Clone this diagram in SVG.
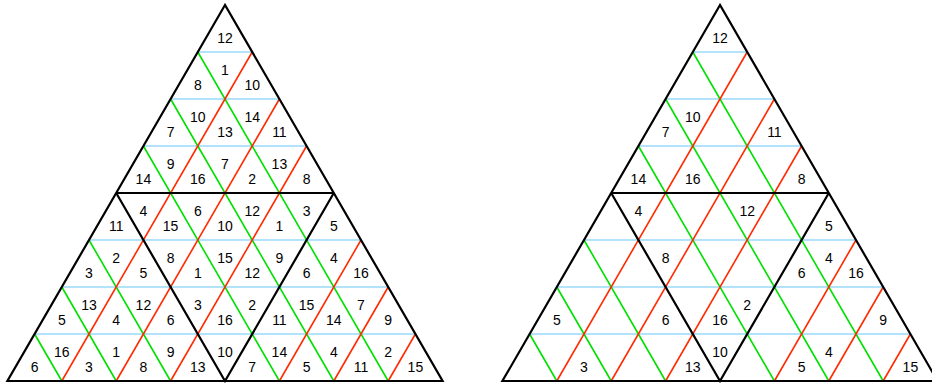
<svg xmlns="http://www.w3.org/2000/svg" xmlns:xlink="http://www.w3.org/1999/xlink" width="932" height="383" viewBox="0 0 932 383">
<style>
.b{stroke:#9ad8fa;stroke-width:1.6;fill:none}
.g{stroke:#00e000;stroke-width:1.6;fill:none}
.r{stroke:#ff2a00;stroke-width:1.6;fill:none}
.k{stroke:#000;stroke-width:2.2;fill:none;stroke-linejoin:miter}
text{font-family:"Liberation Sans",Arial,sans-serif;font-size:14px;fill:#000;text-anchor:middle}
</style>
<defs>
<g id="grid">
<g class="b">
<line x1="197.8" y1="52" x2="252.2" y2="52"/>
<line x1="170.6" y1="99" x2="279.4" y2="99"/>
<line x1="143.4" y1="146" x2="306.6" y2="146"/>
<line x1="89" y1="240" x2="361" y2="240"/>
<line x1="61.8" y1="287" x2="388.2" y2="287"/>
<line x1="34.6" y1="334" x2="415.4" y2="334"/>
</g>
<g class="g">
<line x1="197.8" y1="52" x2="388.2" y2="381"/>
<line x1="170.6" y1="99" x2="333.8" y2="381"/>
<line x1="143.4" y1="146" x2="279.4" y2="381"/>
<line x1="89" y1="240" x2="170.6" y2="381"/>
<line x1="61.8" y1="287" x2="116.2" y2="381"/>
<line x1="34.6" y1="334" x2="61.8" y2="381"/>
</g>
<g class="r">
<line x1="252.2" y1="52" x2="61.8" y2="381"/>
<line x1="279.4" y1="99" x2="116.2" y2="381"/>
<line x1="306.6" y1="146" x2="170.6" y2="381"/>
<line x1="361" y1="240" x2="279.4" y2="381"/>
<line x1="388.2" y1="287" x2="333.8" y2="381"/>
<line x1="415.4" y1="334" x2="388.2" y2="381"/>
</g>
<g class="k">
<line x1="116.2" y1="193" x2="333.8" y2="193"/>
<path d="M116.2,193 L225,381 L333.8,193"/>
<path d="M225,5 L7.4,381 L442.6,381 Z"/>
</g>
</g>
</defs>
<g id="connectors">
<use id="grid-left" xlink:href="#grid" href="#grid"/>
<use id="grid-right" xlink:href="#grid" href="#grid" transform="translate(495,0)"/>
</g>
<g id="left-triangle">
<text x="225" y="43">12</text>
<text x="197.8" y="90">8</text><text x="252.2" y="90">10</text><text x="225" y="74.5">1</text>
<text x="170.6" y="137">7</text><text x="225" y="137">13</text><text x="279.4" y="137">11</text>
<text x="197.8" y="121.5">10</text><text x="252.2" y="121.5">14</text>
<text x="143.4" y="184">14</text><text x="197.8" y="184">16</text><text x="252.2" y="184">2</text><text x="306.6" y="184">8</text>
<text x="170.6" y="168.5">9</text><text x="225" y="168.5">7</text><text x="279.4" y="168.5">13</text>
<text x="116.2" y="231">11</text><text x="170.6" y="231">15</text><text x="225" y="231">10</text><text x="279.4" y="231">1</text><text x="333.8" y="231">5</text>
<text x="143.4" y="215.5">4</text><text x="197.8" y="215.5">6</text><text x="252.2" y="215.5">12</text><text x="306.6" y="215.5">3</text>
<text x="89" y="278">3</text><text x="143.4" y="278">5</text><text x="197.8" y="278">1</text><text x="252.2" y="278">12</text><text x="306.6" y="278">6</text><text x="361" y="278">16</text>
<text x="116.2" y="262.5">2</text><text x="170.6" y="262.5">8</text><text x="225" y="262.5">15</text><text x="279.4" y="262.5">9</text><text x="333.8" y="262.5">4</text>
<text x="61.8" y="325">5</text><text x="116.2" y="325">4</text><text x="170.6" y="325">6</text><text x="225" y="325">16</text><text x="279.4" y="325">11</text><text x="333.8" y="325">14</text><text x="388.2" y="325">9</text>
<text x="89" y="309.5">13</text><text x="143.4" y="309.5">12</text><text x="197.8" y="309.5">3</text><text x="252.2" y="309.5">2</text><text x="306.6" y="309.5">15</text><text x="361" y="309.5">7</text>
<text x="34.6" y="372">6</text><text x="89" y="372">3</text><text x="143.4" y="372">8</text><text x="197.8" y="372">13</text><text x="252.2" y="372">7</text><text x="306.6" y="372">5</text><text x="361" y="372">11</text><text x="415.4" y="372">15</text>
<text x="61.8" y="356.5">16</text><text x="116.2" y="356.5">1</text><text x="170.6" y="356.5">9</text><text x="225" y="356.5">10</text><text x="279.4" y="356.5">14</text><text x="333.8" y="356.5">4</text><text x="388.2" y="356.5">2</text>
</g>
<g id="right-triangle">
<text x="720" y="43">12</text>
<text x="665.6" y="137">7</text><text x="774.4" y="137">11</text><text x="692.8" y="121.5">10</text>
<text x="638.4" y="184">14</text><text x="692.8" y="184">16</text><text x="801.6" y="184">8</text>
<text x="638.4" y="215.5">4</text><text x="747.2" y="215.5">12</text><text x="828.8" y="231">5</text>
<text x="665.6" y="262.5">8</text><text x="801.6" y="278">6</text><text x="828.8" y="262.5">4</text><text x="856" y="278">16</text>
<text x="556.8" y="325">5</text><text x="665.6" y="325">6</text><text x="720" y="325">16</text><text x="747.2" y="309.5">2</text><text x="883.2" y="325">9</text>
<text x="584" y="372">3</text><text x="692.8" y="372">13</text><text x="720" y="356.5">10</text><text x="801.6" y="372">5</text><text x="828.8" y="356.5">4</text><text x="910.4" y="372">15</text>
</g>
</svg>
